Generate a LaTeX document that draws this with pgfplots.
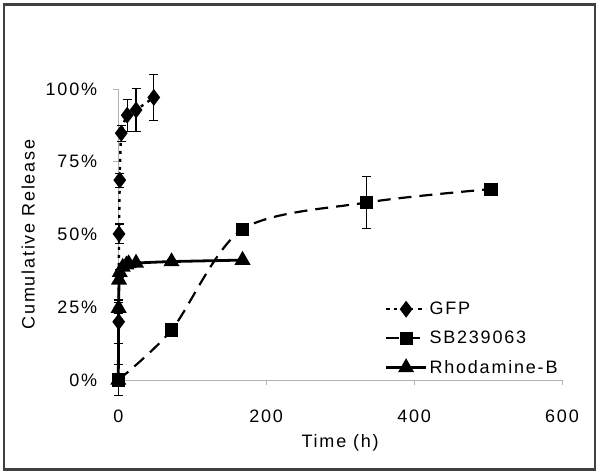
\documentclass[border=0pt]{standalone}
\usepackage{pgfplots}
\pgfplotsset{compat=1.18}
\usepackage{pgfplotstable}
\usepackage{fontspec}
\setmainfont[LetterSpace=10]{Liberation Sans}
\newcommand\lbl{\fontsize{18bp}{21bp}\selectfont}
\pgfplotstableread{
x y e
0.5 0.200 0.075
1 0.502 0.034
2 0.687 0.024
4 0.848 0.028
12 0.910 0.055
24 0.928 0.073
48 0.971 0.079
}\gfp
\pgfplotstableread{
x y e
0 0.000 0.054
72 0.172 0.000
168 0.518 0.015
336 0.610 0.090
504 0.656 0.000
}\sb
\pgfplotstableread{
x y e
0 0.000 0.000
0.5 0.247 0.020
1 0.344 0.010
2 0.370 0.010
6 0.388 0.008
11 0.396 0.008
14 0.400 0.006
24 0.402 0.006
72 0.407 0.006
168 0.412 0.006
}\rhb
\begin{document}
\begin{tikzpicture}
\useasboundingbox (-118.3bp,-95bp) rectangle (482.7bp,380bp);
\begin{axis}[
  scale only axis, width=443.7bp, height=291bp,
  xmin=0, xmax=600, ymin=0, ymax=1,
  /pgf/number format/assume math mode=true,
  axis x line*=bottom, axis y line*=left,
  axis line style={draw=black!30, line width=0.8pt},
  xtick={0,200,400,600}, ytick={0,0.25,0.5,0.75,1},
  xticklabels={0,200,400,600},
  yticklabels={0\%,25\%,50\%,75\%,100\%},
  tick align=outside, major tick length=5bp,
  tick style={draw=black!30, line width=0.8pt},
  every tick label/.append style={font=\lbl},
  xticklabel style={inner sep=0pt, yshift=-25bp},
  yticklabel style={inner sep=0pt, xshift=-16bp},
  clip=false,
  xlabel={Time (h)}, ylabel={Cumulative Release},
  xlabel style={font=\lbl, at={(axis cs:300,0)}, anchor=center, yshift=-63bp},
  ylabel style={font=\lbl, at={(axis description cs:0,0.5)}, anchor=center, yshift=90bp},
  legend cell align=left,
  legend style={draw=none, fill=none, font=\lbl, at={(rel axis cs:0.6,0.275)}, anchor=north west,
    row sep=11bp, inner sep=0pt},
  legend image code/.code={\draw[mark repeat=2,mark phase=2,#1] plot coordinates {(0bp,0bp) (20bp,0bp) (40bp,0bp)};},
  error bars/error bar style={solid, black, line width=1.1pt},
  error bars/error mark options={solid, rotate=90, mark size=4.5bp, line width=1.1pt},
]
\addplot[black, line width=2.4pt, smooth, tension=0.4, dash pattern=on 3bp off 5bp,
  mark=diamond*, mark size=6.5bp, mark options={solid}]
  plot[error bars/.cd, y dir=both, y explicit] table[x=x, y=y, y error=e] {\gfp};
\addlegendentry{GFP}
\addplot[black, line width=2.2pt, smooth, tension=0.5, dash pattern=on 13bp off 8bp,
  mark=square*, mark size=5.5bp, mark options={solid}]
  plot[error bars/.cd, y dir=both, y explicit] table[x=x, y=y, y error=e] {\sb};
\addlegendentry{SB239063}
\addplot[black, line width=2.8pt, smooth, tension=0.3,
  mark=triangle*, mark size=6.5bp, mark options={solid}]
  plot[error bars/.cd, y dir=both, y explicit] table[x=x, y=y, y error=e] {\rhb};
\addlegendentry{Rhodamine-B}
\end{axis}
\draw[line width=2.5bp, black!75] (-114.3bp,-89.5bp) rectangle (476.7bp,375.5bp);
\end{tikzpicture}
\end{document}
